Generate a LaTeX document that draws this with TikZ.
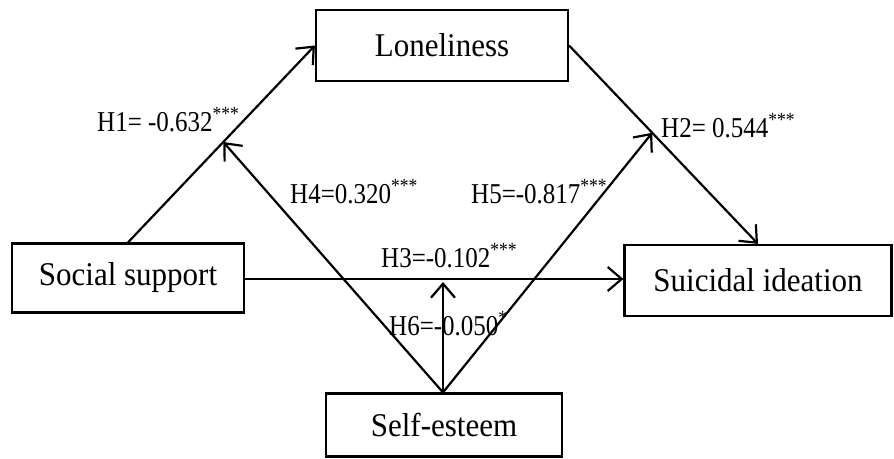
\documentclass[tikz,border=0pt]{standalone}
\usepackage{fontspec}
\setmainfont{Liberation Serif}
\usetikzlibrary{arrows.meta,calc}
\newcommand{\vs}[2]{\scalebox{1}[#1]{#2}}
\begin{document}
\begin{tikzpicture}[x=1pt,y=-1pt,
  box/.style={draw,line width=2.2pt,rectangle,inner sep=0pt,font=\fontsize{31}{35}\selectfont},
  lab/.style={inner sep=0pt,anchor=base west,font=\fontsize{25}{29}\selectfont},
  arr/.style={line width=2.2pt,-{Straight Barb[length=14pt,width=24pt]}}]
\useasboundingbox (0,0) rectangle (894,458);
\node[box,minimum width=252pt,minimum height=71pt] (lon) at (442,45.5) {\vs{1.07}{Loneliness}};
\node[box,minimum width=232pt,minimum height=69pt] (soc) at (128,278) {\vs{1.07}{Social support}};
\node[box,minimum width=267pt,minimum height=71pt] (sui) at (758,280.5) {\vs{1.07}{Suicidal ideation}};
\node[box,minimum width=236pt,minimum height=63pt] (self) at (444,425) {\vs{1.07}{Self-esteem}};
\coordinate (st) at ([xshift=-1pt]self.north);
\coordinate (h1m) at ($(soc.north)!0.51!(lon.west)$);
\coordinate (h2m) at ($(lon.east)!0.44!(sui.north)$);
\coordinate (h3s) at ([yshift=-1pt]soc.east);
\coordinate (h3e) at (h3s -| sui.west);
\coordinate (h3m) at ([yshift=-3pt]st |- h3s);
\draw[arr] (soc.north) -- (lon.west);
\draw[arr] (lon.east) -- (sui.north);
\draw[arr] (h3s) -- (h3e);
\draw[arr] (st) -- (h1m);
\draw[arr] (st) -- (h2m);
\draw[arr] (st) -- (h3m);
\node[lab] (l1) at (97,131) {\vs{1.15}{H1= -0.632\textsuperscript{***}}};
\node[lab] (l4) at (290,203) {\vs{1.15}{H4=0.320\textsuperscript{***}}};
\node[lab] (l2) at (661,137) {\vs{1.15}{H2= 0.544\textsuperscript{***}}};
\node[lab] (l5) at (471,203) {\vs{1.15}{H5=-0.817\textsuperscript{***}}};
\node[lab] (l3) at (381,267) {\vs{1.15}{H3=-0.102\textsuperscript{***}}};
\node[lab] (l6) at (389,335) {\vs{1.15}{H6=-0.050\textsuperscript{*}}};
\end{tikzpicture}
\end{document}
